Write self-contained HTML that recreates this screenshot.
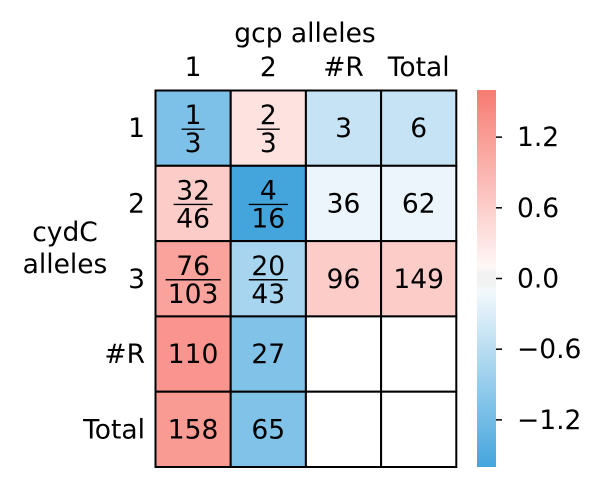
<!DOCTYPE html>
<html><head><meta charset="utf-8"><style>
body{margin:0;background:#fff;width:602px;height:491px;overflow:hidden}
svg text{font-family:"DejaVu Sans","Liberation Sans",sans-serif;fill:#000}
</style></head><body>
<svg id="chart" width="602" height="491" xmlns="http://www.w3.org/2000/svg"></svg>
<script>
const colLabels=["1","2","#R","Total"];
const rowLabels=["1","2","3","#R","Total"];
const cellNum=[["1","2","3","6"],["32","4","36","62"],["76","20","96","149"],["110","27","",""],["158","65","",""]];
const cellDen=[["3","3","",""],["46","16","",""],["103","43","",""],["","","",""],["","","",""]];
const cellValue=[[-1.1,0.35,-0.5,-0.5],[0.62,-1.6,-0.17,-0.17],[1.12,-0.75,0.62,0.62],[1.28,-1.08,null,null],[1.22,-1.08,null,null]];
const cbTicks=[1.2,0.6,0.0,-0.6,-1.2];
const cbTickLabels=["1.2","0.6","0.0","\u22120.6","\u22121.2"];
const vmin=-1.6,vmax=1.6;
const NS="http://www.w3.org/2000/svg";
const svg=document.getElementById('chart');
const X0=155.5,Y0=90.5,CW=75.2,CH=75.3,FS=26.5;
const cx=c=>X0+c*CW, cy=r=>Y0+r*CH;
const CBX=477,CBW=19,CBT=90,CBB=467;
const cbY=v=>CBT+(vmax-v)/(vmax-vmin)*(CBB-CBT);
function mk(t,a,txt){const e=document.createElementNS(NS,t);for(const k in a)e.setAttribute(k,a[k]);if(txt!==undefined)e.textContent=txt;svg.appendChild(e);return e;}
function lerp(a,b,t){return a.map((x,i)=>Math.round(x+(b[i]-x)*t));}
function color(v){const B=[68,165,221],R=[247,123,114];
 const c=v<0?lerp([255,255,255],B,Math.min(1,-v/1.6)):lerp([255,255,255],R,Math.min(1,v/1.6));
 return `rgb(${c[0]},${c[1]},${c[2]})`;}
let t=mk('text',{x:305,y:42,'font-size':FS,'text-anchor':'middle'},'gcp alleles');

t=mk('text',{x:65,y:241,'font-size':FS,'text-anchor':'middle'},'cydC');

t=mk('text',{x:65,y:273,'font-size':FS,'text-anchor':'middle'},'alleles');

colLabels.forEach((l,c)=>{const e=mk('text',{x:cx(c)+CW/2,y:76,'font-size':FS,'text-anchor':'middle'},l);
 });
rowLabels.forEach((l,r)=>{const e=mk('text',{x:145,y:cy(r)+CH/2+9,'font-size':FS,'text-anchor':'end'},l);
 });
for(let r=0;r<rowLabels.length;r++)for(let c=0;c<colLabels.length;c++){
 const v=cellValue[r][c];
 const rect=mk('rect',{x:cx(c),y:cy(r),width:CW,height:CH,fill:v===null?'#fff':color(v),stroke:'#000','stroke-width':2});
 
 const mx=cx(c)+CW/2,my=cy(r)+CH/2;
 if(cellDen[r][c]){
  const n=mk('text',{x:mx,y:my-4,'font-size':FS,'text-anchor':'middle'},cellNum[r][c]);
  
  const w=cellDen[r][c].length*16+7;
  const ln=mk('line',{x1:mx-w/2,x2:mx+w/2,y1:my+1,y2:my+1,stroke:'#000','stroke-width':1.4});
  
  const d=mk('text',{x:mx,y:my+24,'font-size':FS,'text-anchor':'middle'},cellDen[r][c]);
  
 }else if(cellNum[r][c]){
  const n=mk('text',{x:mx,y:my+9,'font-size':FS,'text-anchor':'middle'},cellNum[r][c]);
  
 }
}
const defs=mk('defs',{});
const g=document.createElementNS(NS,'linearGradient');g.setAttribute('id','cbg');g.setAttribute('x1',0);g.setAttribute('x2',0);g.setAttribute('y1',0);g.setAttribute('y2',1);defs.appendChild(g);
for(let i=0;i<=64;i++){const v=vmax-(vmax-vmin)*i/64;const s=document.createElementNS(NS,'stop');s.setAttribute('offset',i/64);s.setAttribute('stop-color',Math.abs(v)<0.06?'#f2f2f2':color(v));g.appendChild(s);}
const cb=mk('rect',{x:CBX,y:CBT,width:CBW,height:CBB-CBT,fill:'url(#cbg)'});

cbTicks.forEach((v,i)=>{const y=cbY(v);
 const tk=mk('line',{x1:CBX+CBW,x2:CBX+CBW+6,y1:y,y2:y,stroke:'#000','stroke-width':1.5});
 
 const l=mk('text',{x:517,y:y+9,'font-size':FS},cbTickLabels[i]);
 });
</script>
</body></html>
